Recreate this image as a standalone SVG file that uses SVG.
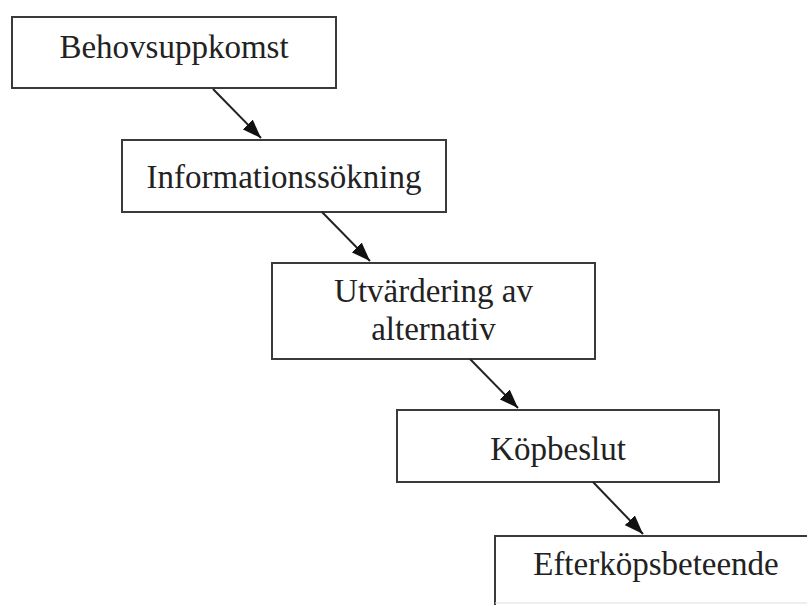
<svg xmlns="http://www.w3.org/2000/svg" width="807" height="605" viewBox="0 0 807 605">
<style>
.box{fill:#fff;stroke:#3a3a3a;stroke-width:2}
.lbl{font-family:"Liberation Serif","Times New Roman",serif;font-size:33px;fill:#222;text-anchor:middle}
.conn{stroke:#222;stroke-width:2;fill:none;marker-end:url(#ah)}
</style>
<defs>
<marker id="ah" markerUnits="userSpaceOnUse" markerWidth="20" markerHeight="14" viewBox="0 0 20 14" refX="19" refY="7" orient="auto">
<path d="M0,0 L19,7 L0,14 Z" fill="#111"/>
</marker>
</defs>
<rect width="807" height="605" fill="#fff"/>
<g id="node1"><rect class="box" x="12" y="17" width="324" height="71"/><text class="lbl" x="174" y="58">Behovsuppkomst</text></g>
<g id="node2"><rect class="box" x="122" y="140" width="324" height="72"/><text class="lbl" x="284" y="188">Informationssökning</text></g>
<g id="node3"><rect class="box" x="272" y="263" width="323" height="96"/><text class="lbl" x="433.5" y="302">Utvärdering av</text><text class="lbl" x="433.5" y="340">alternativ</text></g>
<g id="node4"><rect class="box" x="397" y="410" width="322" height="72"/><text class="lbl" x="558" y="460">Köpbeslut</text></g>
<g id="node5"><rect x="495" y="536" width="325" height="67" fill="#fff" stroke="none"/><path d="M495,605 L495,536 L820,536" fill="none" stroke="#3a3a3a" stroke-width="2"/><line x1="495" y1="603" x2="807" y2="603" stroke="#ddd" stroke-width="1"/><text class="lbl" x="656" y="575">Efterköpsbeteende</text></g>
<g id="connectors">
<line class="conn" x1="213" y1="89" x2="261" y2="138"/>
<line class="conn" x1="322" y1="212" x2="370" y2="261"/>
<line class="conn" x1="470" y1="359" x2="518" y2="408"/>
<line class="conn" x1="593" y1="482" x2="643" y2="534"/>
</g>
</svg>
